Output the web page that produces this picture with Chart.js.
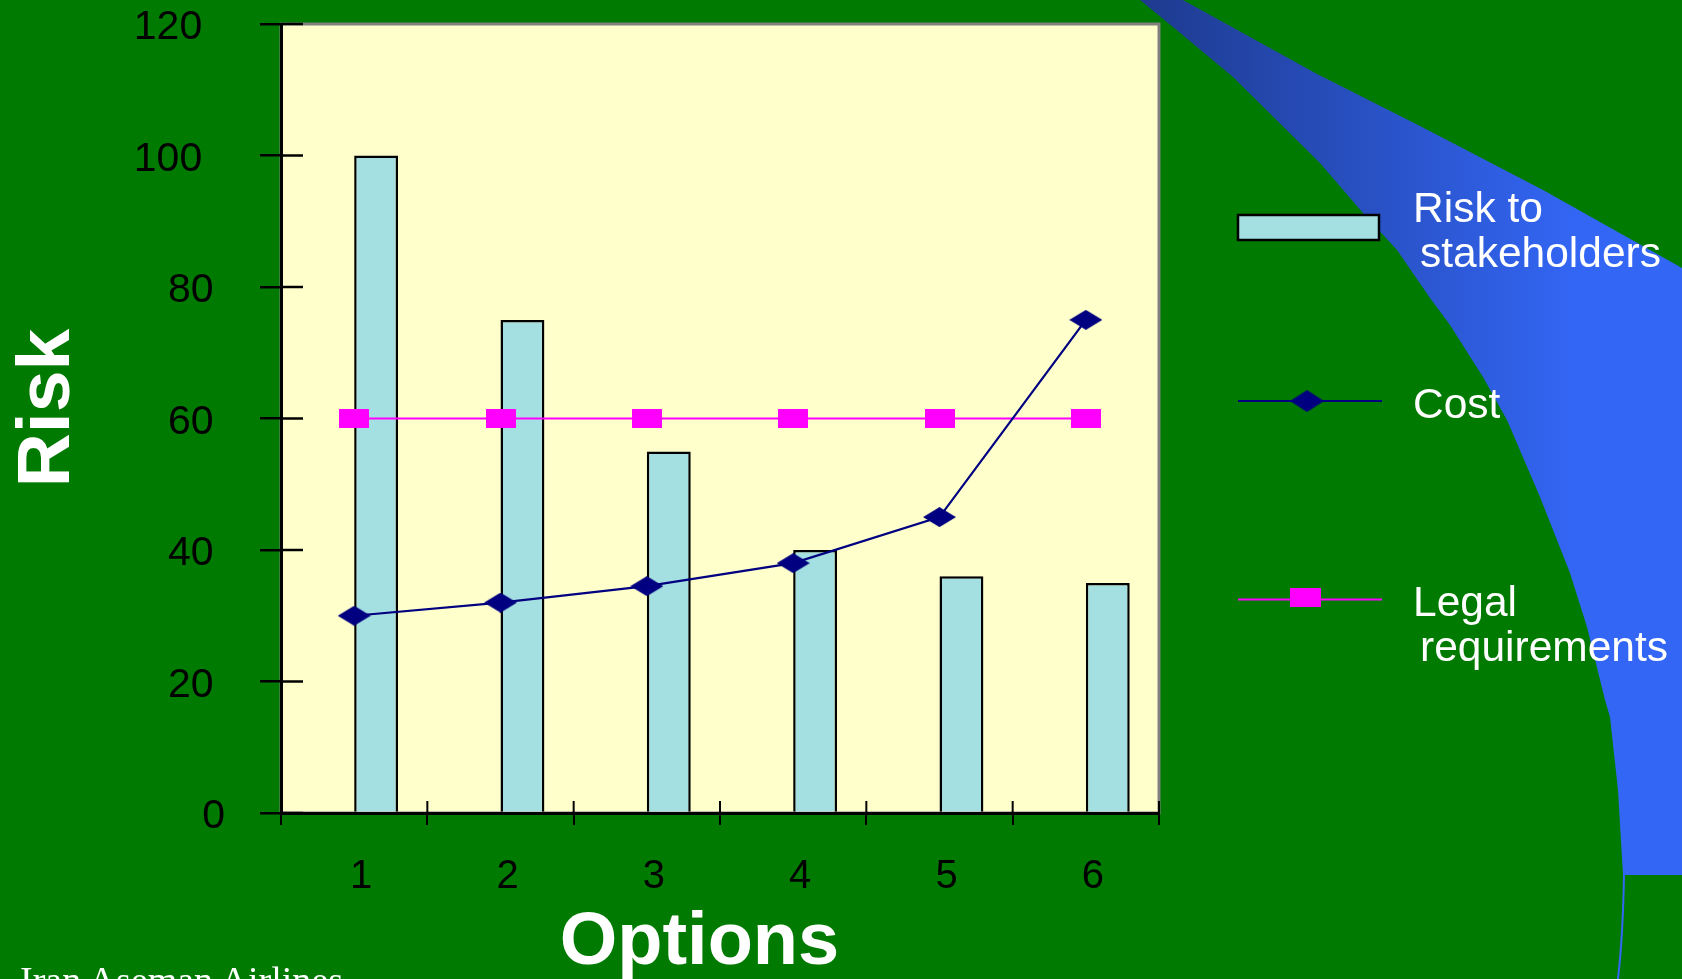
<!DOCTYPE html>
<html>
<head>
<meta charset="utf-8">
<script src="https://cdn.jsdelivr.net/npm/chart.js@4.4.1/dist/chart.umd.min.js"></script>
<style>
html, body { margin: 0; padding: 0; background: #007a00; overflow: hidden; }
#wrap { position: relative; width: 1682px; height: 979px; }
canvas { display: block; }
#footer {
  position: absolute; left: 20px; top: 961px;
  font: 38px 'Liberation Serif', 'Times New Roman', serif; line-height: 38px;
  color: #ffffff; white-space: nowrap;
}
</style>
</head>
<body>
<div id="wrap">
  <canvas id="chart" width="1682" height="979"></canvas>
  <div id="footer">Iran Aseman Airlines</div>
</div>
<script>
// Options compared on the x axis
const options = ['1', '2', '3', '4', '5', '6'];
// Series values
const riskToStakeholders = [100, 75, 55, 40, 36, 35];
const cost = [30, 32, 34.5, 38, 45, 75];
const legalRequirements = [60, 60, 60, 60, 60, 60];
// Risk axis ticks
const riskTicks = [0, 20, 40, 60, 80, 100, 120];
// Series names, and how they wrap in the side legend
const seriesNames = ['Risk to stakeholders', 'Cost', 'Legal requirements'];
const legendLines = [['Risk to', 'stakeholders'], ['Cost'], ['Legal', 'requirements']];

const GREEN = '#007a00';
const PLOT_FILL = '#ffffcc';
const BAR_FILL = '#a4e0e2';
const NAVY = '#000080';
const MAGENTA = '#ff00ff';

Chart.defaults.font.family = "'Liberation Sans', Arial, sans-serif";

// Flattened marker glyphs (wider than tall)
function markerCanvas(w, h, color, shape) {
  const c = document.createElement('canvas');
  c.width = w; c.height = h;
  const g = c.getContext('2d');
  g.fillStyle = color;
  g.beginPath();
  if (shape === 'diamond') {
    g.moveTo(w / 2, 0); g.lineTo(w, h / 2); g.lineTo(w / 2, h); g.lineTo(0, h / 2); g.closePath();
  } else {
    g.rect(0, 0, w, h);
  }
  g.fill();
  return c;
}
const diamondMark = markerCanvas(33, 20, NAVY, 'diamond');
const squareMark = markerCanvas(30, 19, MAGENTA, 'square');

// Decorative blue sweep on the right of the slide
const sweepInner = [[1140,0],[1173,27],[1233,77],[1320,163],[1363,213],[1397,250],[1430,298],[1450,325],
  [1483,377],[1507,420],[1540,497],[1570,573],[1587,627],[1605,700],[1610,717],[1618,790],[1623,875]];
const sweepOuter = [[1183,0],[1317,74],[1420,126],[1543,190],[1650,250],[1682,268]];

const backdrop = {
  id: 'backdrop',
  beforeDraw(chart) {
    const { ctx, chartArea: a } = chart;
    ctx.save();
    ctx.fillStyle = GREEN;
    ctx.fillRect(0, 0, chart.width, chart.height);

    const grad = ctx.createLinearGradient(1140, 0, 1580, 0);
    grad.addColorStop(0, '#1e3a8e');
    grad.addColorStop(1, '#3366f5');
    ctx.fillStyle = grad;
    ctx.beginPath();
    sweepInner.forEach(([x, y], i) => i ? ctx.lineTo(x, y) : ctx.moveTo(x, y));
    ctx.lineTo(1682, 875);
    for (let i = sweepOuter.length - 1; i >= 0; i--) ctx.lineTo(sweepOuter[i][0], sweepOuter[i][1]);
    ctx.closePath();
    ctx.fill();
    ctx.strokeStyle = '#3366f5';
    ctx.lineWidth = 2;
    ctx.beginPath();
    ctx.moveTo(1624, 874);
    ctx.quadraticCurveTo(1623, 935, 1618, 979);
    ctx.stroke();

    ctx.fillStyle = PLOT_FILL;
    ctx.fillRect(a.left, a.top, a.right - a.left, a.bottom - a.top);
    ctx.strokeStyle = '#808080';
    ctx.lineWidth = 3;
    ctx.strokeRect(a.left, a.top, a.right - a.left, a.bottom - a.top);
    ctx.restore();
  }
};

// Tick marks that cross the axes: the part reaching into the plot area
const crossTicks = {
  id: 'crossTicks',
  beforeDatasetsDraw(chart) {
    const { ctx, scales: { x, y } } = chart;
    ctx.save();
    ctx.strokeStyle = '#000';
    ctx.lineWidth = 2.5;
    y.ticks.forEach(t => {
      const py = y.getPixelForValue(t.value);
      ctx.beginPath(); ctx.moveTo(x.left, py); ctx.lineTo(x.left + 22, py); ctx.stroke();
    });
    ctx.lineWidth = 2;
    const n = x.ticks.length;
    for (let i = 0; i <= n; i++) {
      const px = x.left + i * (x.right - x.left) / n;
      ctx.beginPath(); ctx.moveTo(px, y.bottom); ctx.lineTo(px, y.bottom - 12); ctx.stroke();
    }
    ctx.restore();
  }
};

// Legend to the right of the plot, one entry per series with wrapped names
const sideLegend = {
  id: 'sideLegend',
  afterDraw(chart) {
    const { ctx } = chart;
    const ds = chart.data.datasets;
    const bars = ds.find(d => d.label === seriesNames[0]);
    const costDs = ds.find(d => d.label === seriesNames[1]);
    const legalDs = ds.find(d => d.label === seriesNames[2]);
    const keyL = 1238, keyR = 1382, textX = 1413, indent = 7, lineGap = 45;
    ctx.save();

    ctx.fillStyle = bars.backgroundColor;
    ctx.fillRect(1238, 215, 141, 25);
    ctx.strokeStyle = bars.borderColor;
    ctx.lineWidth = 2.5;
    ctx.strokeRect(1238, 215, 141, 25);

    ctx.strokeStyle = costDs.borderColor;
    ctx.lineWidth = 2;
    ctx.beginPath(); ctx.moveTo(keyL, 401); ctx.lineTo(keyR, 401); ctx.stroke();
    ctx.drawImage(costDs.pointStyle, 1307 - 17, 401 - 11, 34, 22);

    ctx.strokeStyle = legalDs.borderColor;
    ctx.beginPath(); ctx.moveTo(keyL, 599.5); ctx.lineTo(keyR, 599.5); ctx.stroke();
    ctx.drawImage(legalDs.pointStyle, 1305 - 15.5, 597.5 - 9.5, 31, 19);

    ctx.fillStyle = '#ffffff';
    ctx.font = "42.5px 'Liberation Sans', Arial, sans-serif";
    ctx.textBaseline = 'alphabetic';
    ctx.textAlign = 'left';
    const baselines = [222, 418, 616];
    legendLines.forEach((lines, i) => {
      lines.forEach((t, j) => ctx.fillText(t, textX + (j ? indent : 0), baselines[i] + j * lineGap));
    });
    ctx.restore();
  }
};

new Chart(document.getElementById('chart'), {
  data: {
    labels: options,
    datasets: [
      {
        type: 'line', label: seriesNames[1], data: cost, order: 1,
        borderColor: NAVY, backgroundColor: NAVY, borderWidth: 2.2, tension: 0,
        pointStyle: diamondMark, pointRadius: 10
      },
      {
        type: 'line', label: seriesNames[2], data: legalRequirements, order: 2,
        borderColor: MAGENTA, backgroundColor: MAGENTA, borderWidth: 2.2, tension: 0,
        pointStyle: squareMark, pointRadius: 10
      },
      {
        // empty first slot of each group: the bars sit just right of the option's centre
        type: 'bar', label: '', data: options.map(() => null), order: 3,
        categoryPercentage: 0.6, barPercentage: 1
      },
      {
        type: 'bar', label: seriesNames[0], data: riskToStakeholders, order: 3,
        backgroundColor: BAR_FILL, borderColor: '#000000', borderWidth: 2.5,
        categoryPercentage: 0.6, barPercentage: 1
      }
    ]
  },
  options: {
    responsive: false,
    animation: false,
    devicePixelRatio: 1,
    layout: { padding: { left: 0, right: 523, top: 24, bottom: 0 } },
    plugins: { legend: { display: false }, tooltip: { enabled: false } },
    scales: {
      x: {
        type: 'category', offset: true,
        afterFit: s => { s.height = 166; s.paddingLeft = 0; s.paddingRight = 0; },
        border: { color: '#000', width: 3 },
        grid: { offset: true, drawOnChartArea: false, drawTicks: true, tickLength: 12, color: '#000', lineWidth: 2 },
        ticks: { color: '#000', font: { size: 40 }, padding: 28, labelOffset: 7, maxRotation: 0, autoSkip: false },
        title: { display: true, text: 'Options  ', color: '#ffffff', font: { size: 74, weight: 'bold', lineHeight: 1 }, padding: { top: 0, bottom: -2 } }
      },
      y: {
        type: 'linear', min: 0, max: 120,
        afterBuildTicks: s => { s.ticks = riskTicks.map(v => ({ value: v })); },
        afterFit: s => { s.width = 281; s.paddingTop = 0; s.paddingBottom = 0; },
        border: { color: '#000', width: 3 },
        grid: { drawOnChartArea: false, drawTicks: true, tickLength: 21, color: '#000', lineWidth: 2.5 },
        ticks: {
          color: '#000', font: { size: 41 }, padding: 35, labelOffset: 4,
          callback: v => String(v) + ' '.repeat(String(v).length - 1)
        },
        title: { display: true, text: ' Risk', color: '#ffffff', font: { size: 75, weight: 'bold', lineHeight: 1 }, padding: { top: 11, bottom: 0 } }
      }
    }
  },
  plugins: [backdrop, crossTicks, sideLegend]
});
</script>
</body>
</html>
